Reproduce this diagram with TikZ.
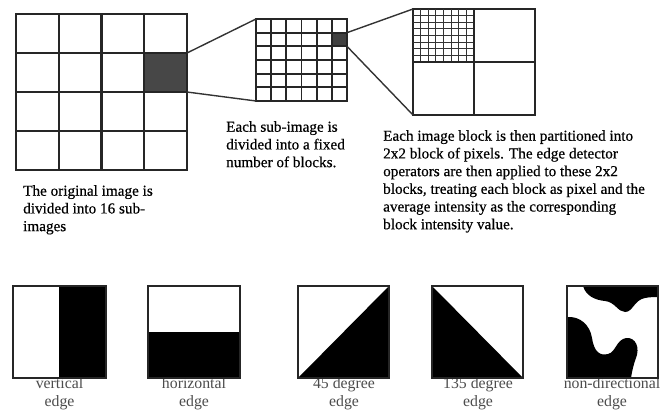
\documentclass[tikz,border=0pt]{standalone}
\usepackage{fontspec}
\setmainfont{Liberation Serif}
\newfontfamily\capfont[FakeBold=0.5]{Liberation Serif}
\begin{document}
\begin{tikzpicture}[x=1pt,y=-1pt,
  heavy/.style={line width=2.2pt, draw=black!85},
  medium/.style={line width=1.8pt, draw=black!85},
  fine/.style={line width=0.9pt, draw=black!80},
  link/.style={line width=1.4pt, draw=black!80},
  captext/.style={inner sep=0pt, anchor=north west, align=left, font=\capfont\fontsize{15.2}{17.7}\selectfont, text=black},
  edgelabel/.style={inner sep=0pt, anchor=north, align=center, font=\fontsize{15.8}{18}\selectfont, text=black!70},
  pattern box/.style={draw=black!85, line width=1.3pt}]
\useasboundingbox (0,0) rectangle (660,414);

% ---- original image: 4x4 grid
\node[fill=black!72, minimum width=42.75pt, minimum height=39pt, inner sep=0pt, outer sep=0pt] (bigcell) at (165.6,72.5) {};
\node[heavy, minimum width=171pt, minimum height=156pt, inner sep=0pt, outer sep=0pt] (big) at (101.5,92) {};
\foreach \i in {1,2,3} {
  \draw[heavy] (16+\i*42.75,14) -- ++(0,156);
  \draw[heavy] (16,14+\i*39) -- ++(171,0);
}

% ---- sub-image: 6x6 grid
\node[fill=black!75, minimum width=15.17pt, minimum height=13.67pt, inner sep=0pt, outer sep=0pt] (midcell) at (339.4,39.5) {};
\node[medium, minimum width=91pt, minimum height=82pt, inner sep=0pt, outer sep=0pt] (mid) at (301.5,60) {};
\foreach \i in {1,...,5} {
  \draw[medium] (256+\i*15.17,19) -- ++(0,82);
  \draw[medium] (256,19+\i*13.67) -- ++(91,0);
}

% ---- image block: 2x2 with fine grid in top-left
\node[heavy, minimum width=122pt, minimum height=106pt, inner sep=0pt, outer sep=0pt] (blk) at (474,62) {};
\foreach \i in {1,...,7} {
  \draw[fine] (413+\i*7.625,9) -- ++(0,53);
  \draw[fine] (413,9+\i*6.625) -- ++(61,0);
}
\draw[heavy] (blk.north) -- (blk.south);
\draw[heavy] (blk.west) -- (blk.east);

% ---- connectors
\draw[link] (bigcell.north east) -- (mid.north west);
\draw[link] (bigcell.south east) -- (mid.south west);
\draw[link] (midcell.north east) -- (blk.north west);
\draw[link] (midcell.south east) -- (blk.south west);

% ---- captions
\node[captext] (t1) at (23,185) {The original image is\\divided into 16 sub-\\images};
\node[captext] (t2) at (226,121) {Each sub-image is\\divided into a fixed\\number of blocks.};
\node[captext] (t3) at (383,130) {Each image block is then partitioned into\\2x2 block of pixels. The edge detector\\operators are then applied to these 2x2\\blocks, treating each block as pixel and the\\average intensity as the corresponding\\block intensity value.};

% ---- labels (drawn first so that the box borders overlap them)
\node[edgelabel] (l1) at (59.5,377.5) {vertical\\edge};
\node[edgelabel] (l2) at (194,377.5) {horizontal\\edge};
\node[edgelabel] (l3) at (344,377.5) {45 degree\\edge};
\node[edgelabel] (l4) at (478,377.5) {135 degree\\edge};
\node[edgelabel] (l5) at (612,377.5) {non-directional\\edge};

% ---- edge patterns
% vertical
\fill[black] (59,286) rectangle (106,378);
\node[pattern box, minimum width=93pt, minimum height=92pt, inner sep=0pt] (pv) at (59.5,332) {};
% horizontal
\fill[black] (148,332) rectangle (240,378);
\node[pattern box, minimum width=92pt, minimum height=92pt, inner sep=0pt] (ph) at (194,332) {};
% 45 degree
\fill[black] (298,378) -- (389,286) -- (389,378) -- cycle;
\node[pattern box, minimum width=91pt, minimum height=92pt, inner sep=0pt] (p45) at (343.5,332) {};
% 135 degree
\fill[black] (432,286) -- (523,378) -- (432,378) -- cycle;
\node[pattern box, minimum width=91pt, minimum height=92pt, inner sep=0pt] (p135) at (477.5,332) {};
% non-directional
\fill[black] (583,286) .. controls (586,296) and (595,300) .. (605,301)
  .. controls (615,302) and (618,312) .. (625,312)
  .. controls (633,312) and (634,300) .. (645,298)
  .. controls (650,297) and (655,297) .. (658,297) -- (658,286) -- cycle;
\fill[black] (567,317) .. controls (580,316) and (590,325) .. (592,338)
  .. controls (594,352) and (600,356) .. (608,354)
  .. controls (616,352) and (616,340) .. (626,338)
  .. controls (636,337) and (640,348) .. (636,358)
  .. controls (633,366) and (632,372) .. (631,378) -- (567,378) -- cycle;
\node[pattern box, minimum width=91pt, minimum height=92pt, inner sep=0pt] (pnd) at (612.5,332) {};
\end{tikzpicture}
\end{document}
